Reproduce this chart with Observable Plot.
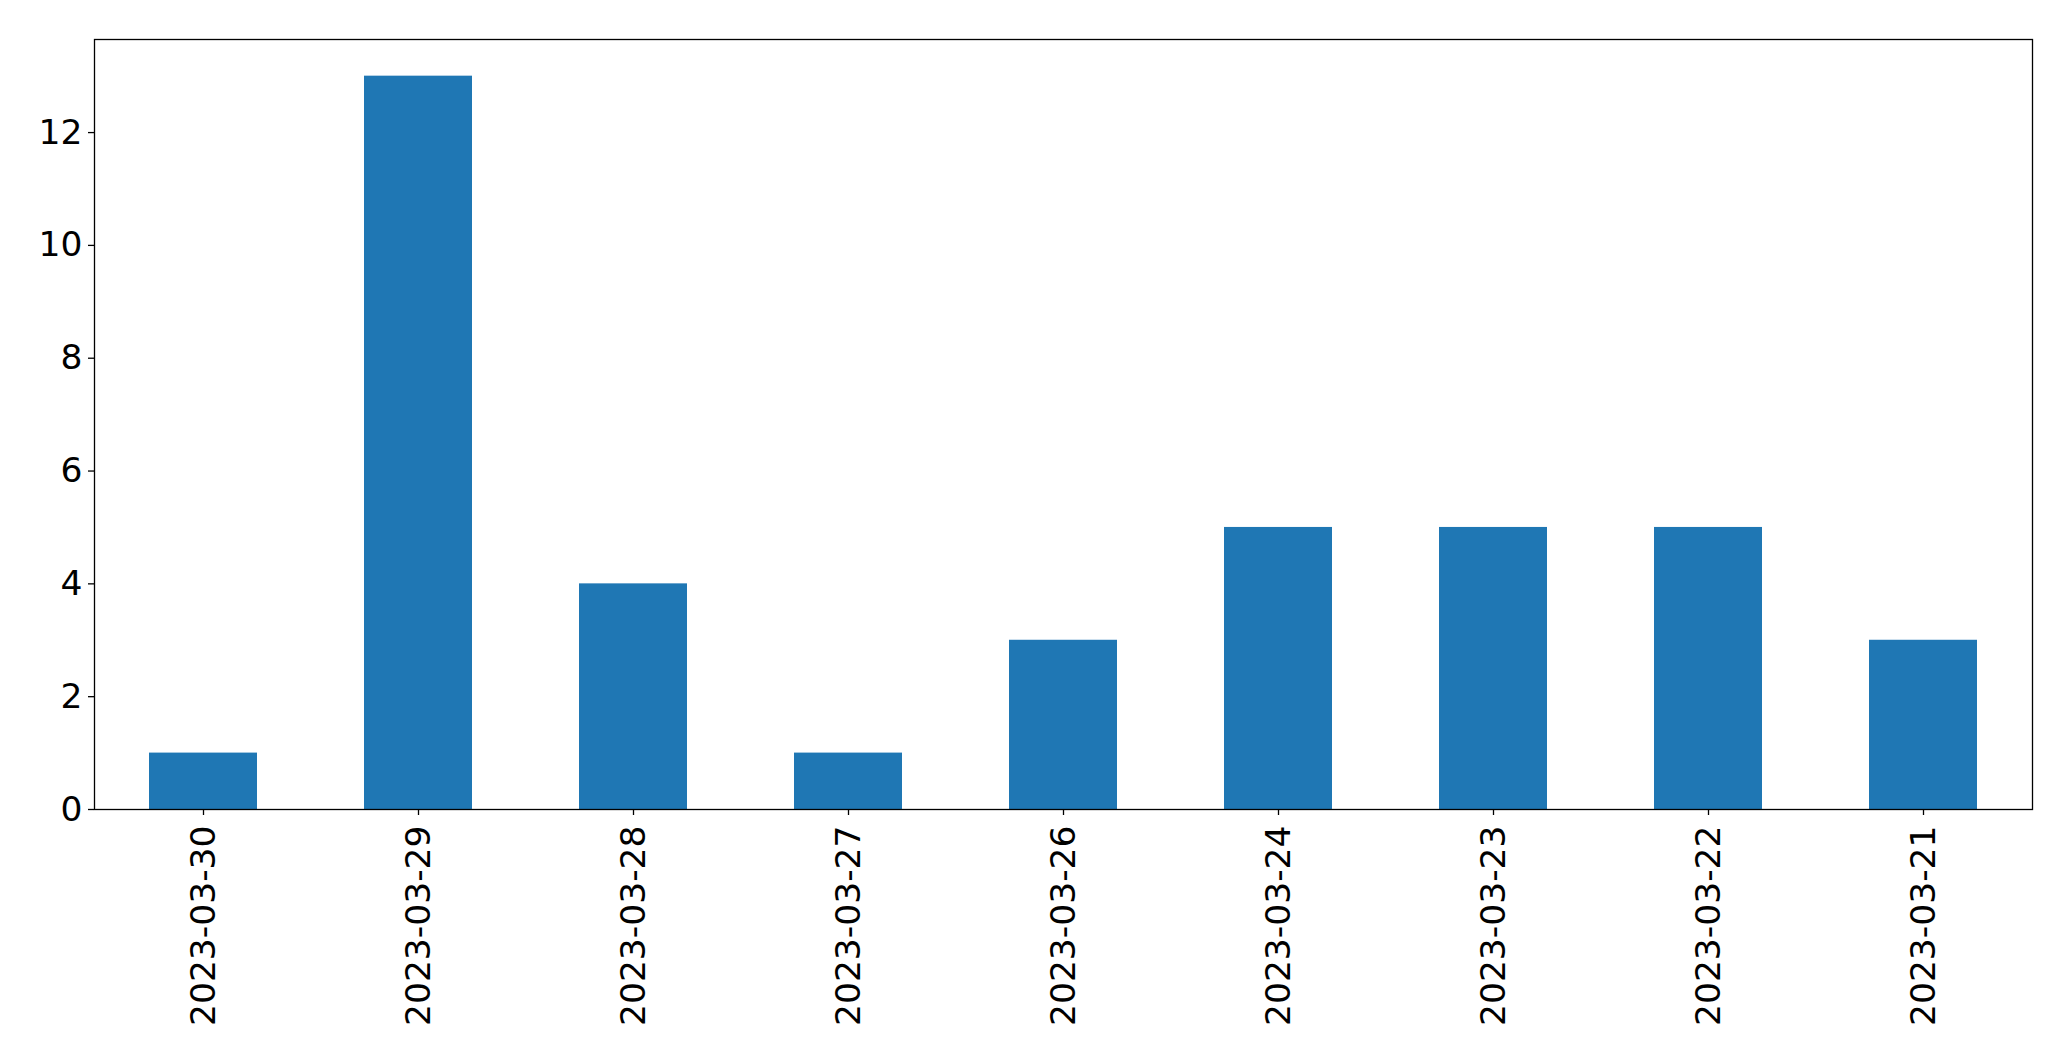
<!DOCTYPE html>
<html>
<head>
<meta charset="utf-8">
<script src="https://cdn.jsdelivr.net/npm/d3@7"></script>
<script src="https://cdn.jsdelivr.net/npm/@observablehq/plot@0.6"></script>
<style>
  html, body { margin: 0; padding: 0; background: #fff; }
  #chart svg { display: block; }
</style>
</head>
<body>
<div id="chart"></div>
<script>
const dates = ["2023-03-30","2023-03-29","2023-03-28","2023-03-27","2023-03-26","2023-03-24","2023-03-23","2023-03-22","2023-03-21"];
const counts = [1, 13, 4, 1, 3, 5, 5, 5, 3];
const yTicks = [0, 2, 4, 6, 8, 10, 12];

const data = dates.map((d, i) => ({date: d, count: counts[i]}));

const chart = Plot.plot({
  width: 2071,
  height: 1061,
  marginLeft: 94,
  marginRight: 39,
  marginTop: 39,
  marginBottom: 252,
  style: {fontFamily: "DejaVu Sans", fontSize: "34.5px", color: "black", background: "white"},
  x: {domain: dates, paddingInner: 0.5, paddingOuter: 0.25, label: null},
  y: {domain: [0, 13.65], label: null},
  marks: [
    Plot.barY(data, {x: "date", y: "count", fill: "#1f77b4"}),
    Plot.axisY({ticks: yTicks, tickSize: 6, tickPadding: 6, fontSize: 34.5, stroke: "black", strokeWidth: 1.3, label: null}),
    Plot.axisX({tickSize: 6, tickPadding: 10, tickRotate: -90, fontSize: 34.5, stroke: "black", strokeWidth: 1.3, label: null}),
    Plot.frame({stroke: "black", strokeWidth: 1.3})
  ]
});
document.getElementById("chart").appendChild(chart);
</script>
</body>
</html>
